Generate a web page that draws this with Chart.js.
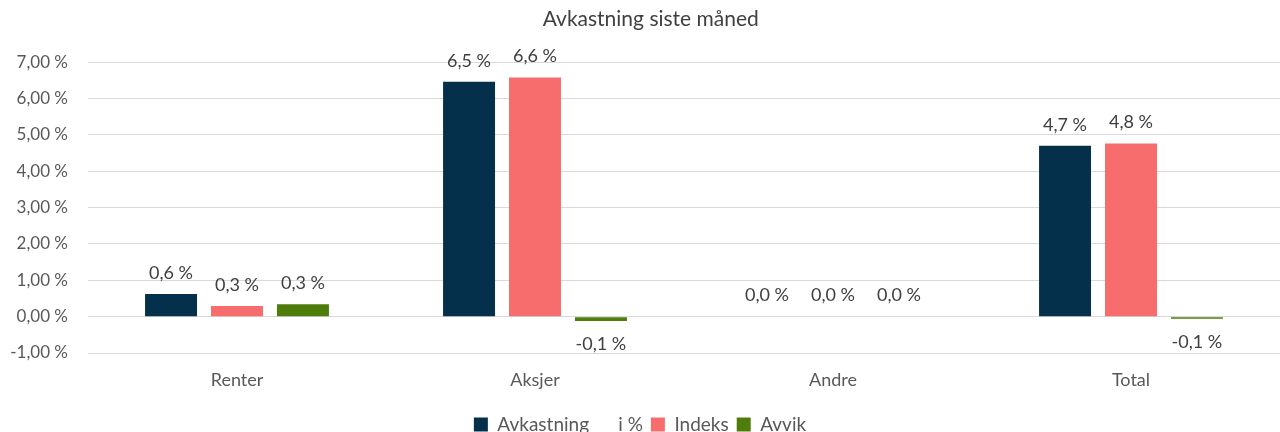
<!DOCTYPE html>
<html>
<head>
<meta charset="utf-8">
<script src="https://cdn.jsdelivr.net/npm/chart.js@4/dist/chart.umd.min.js"></script>
<style>
  html, body { margin: 0; padding: 0; background: #fff; overflow: hidden; }
  #wrap { width: 1280px; height: 444px; }
</style>
</head>
<body>
<div id="wrap"><canvas id="chart"></canvas></div>
<script>
var categories = ['Renter', 'Aksjer', 'Andre', 'Total'];
var avkastning = [0.62, 6.46, 0, 4.70];
var indeks = [0.29, 6.58, 0, 4.76];
var avvik = [0.34, -0.12, 0, -0.06];
var seriesNames = ['Avkastning      i %', 'Indeks', 'Avvik'];

// skriver verdiene over / under stolpene
var valueLabels = {
  id: 'valueLabels',
  afterDatasetsDraw: function(chart) {
    var ctx = chart.ctx;
    ctx.save();
    ctx.font = '18px Lato';
    ctx.fillStyle = '#404040';
    ctx.textAlign = 'center';
    ctx.textBaseline = 'middle';
    chart.data.datasets.forEach(function(ds, i) {
      var meta = chart.getDatasetMeta(i);
      meta.data.forEach(function(bar, j) {
        var v = ds.data[j];
        var txt = v.toFixed(1).replace('.', ',') + ' %';
        var y = v < 0 ? bar.y + 23 : bar.y - 21;
        ctx.fillText(txt, bar.x, y);
      });
    });
    ctx.restore();
  }
};

var ctx = document.getElementById('chart').getContext('2d');
var chart = new Chart(ctx, {
  type: 'bar',
  data: {
    labels: categories,
    datasets: [
      { label: seriesNames[0], data: avkastning, backgroundColor: '#05304b' },
      { label: seriesNames[1], data: indeks, backgroundColor: '#f76d6e' },
      { label: seriesNames[2], data: avvik, backgroundColor: '#4e7d0b' }
    ]
  },
  options: {
    responsive: true,
    maintainAspectRatio: false,
    animation: false,
    categoryPercentage: 0.664,
    barPercentage: 0.788,
    layout: { padding: { left: 0, right: 0, top: 0, bottom: 0 } },
    scales: {
      x: {
        grid: { display: false },
        border: { display: false },
        ticks: { color: '#595959', font: { family: 'Lato', size: 18 }, padding: 8 },
        afterFit: function(s) { s.height = 54; }
      },
      y: {
        min: -1,
        max: 7,
        grid: { color: '#d9d9d9', drawTicks: false },
        border: { display: false },
        ticks: {
          stepSize: 1,
          color: '#595959',
          font: { family: 'Lato', size: 17 },
          padding: 20,
          callback: function(v) { return v.toFixed(2).replace('.', ',') + ' %'; }
        },
        afterFit: function(s) { s.width = 88; }
      }
    },
    plugins: {
      title: {
        display: true,
        text: '    Avkastning siste måned',
        color: '#404040',
        font: { family: 'Lato', size: 21, weight: 'normal' },
        padding: { top: 7, bottom: 30 }
      },
      legend: {
        position: 'bottom',
        labels: {
          color: '#595959',
          font: { family: 'Lato', size: 19 },
          boxWidth: 14,
          boxHeight: 14,
          padding: 8
        }
      },
      tooltip: { enabled: false }
    }
  },
  plugins: [valueLabels]
});
</script>
</body>
</html>
